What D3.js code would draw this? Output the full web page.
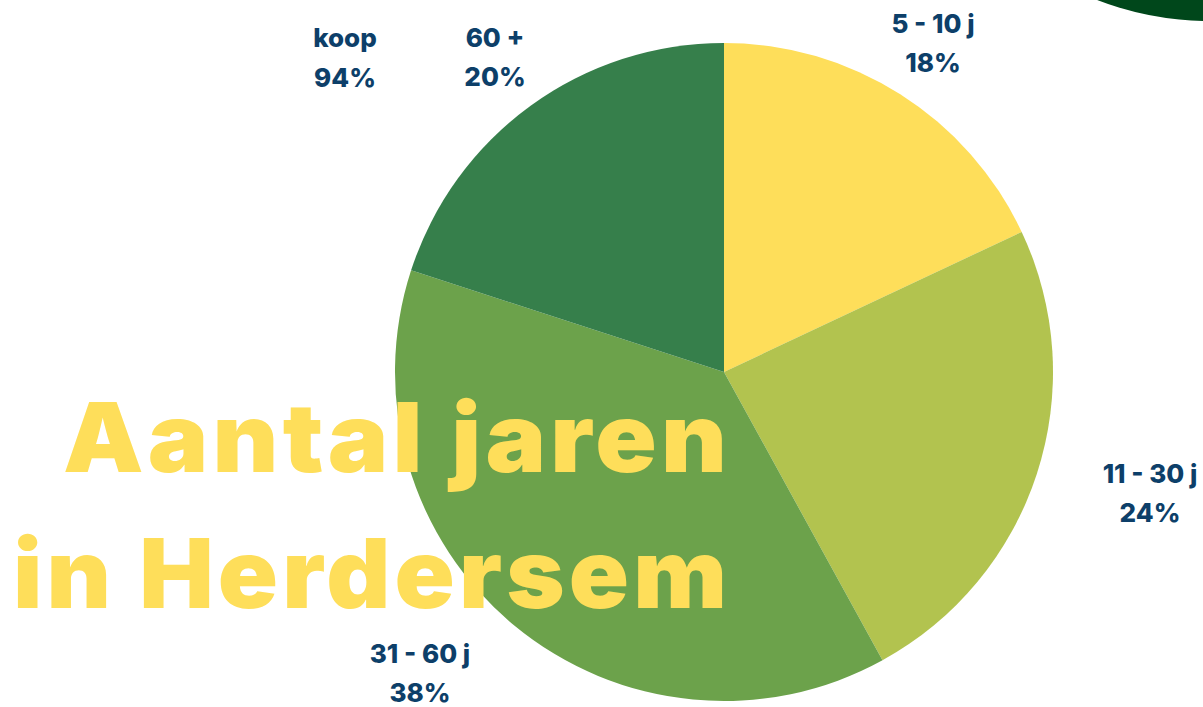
<!DOCTYPE html>
<html><head><meta charset="utf-8">
<script src="https://cdn.jsdelivr.net/npm/d3@7"></script>
<style>
html,body{margin:0;padding:0;background:#fff;}
svg{display:block;}
</style></head>
<body>
<svg id="chart" width="1203" height="707"></svg>
<script>
const categories = ["5 - 10 j", "11 - 30 j", "31 - 60 j", "60 +"];
const values = [18, 24, 38, 20];
const colors = ["#FEDE5A", "#B2C34F", "#6CA24B", "#367F4B"];
const titleLines = ["Aantal jaren", "in Herdersem"];
const extraLabel = ["koop", "94%"];

const W = 1203, H = 707;
const svg = d3.select("#chart");

// decorative dark green circle top-right
svg.append("circle").attr("cx", 1210).attr("cy", -293).attr("r", 314).attr("fill", "#00471B");

const cx = 724, cy = 372, R = 329;
const pie = d3.pie().sort(null).value(d => d.v);
const arcs = pie(categories.map((c, i) => ({c, v: values[i], col: colors[i]})));
const arc = d3.arc().innerRadius(0).outerRadius(R);

const g = svg.append("g").attr("transform", `translate(${cx},${cy})`);
g.selectAll("path").data(arcs).join("path")
  .attr("d", arc).attr("fill", d => d.data.col);

// label positions (text centres)
const labelPos = [[933, 33], [1150, 483], [420, 663], [495, 47]];
const lblColor = "#0D3F69";
const lg = svg.append("g").attr("font-family", "Inter, 'Noto Sans', sans-serif")
  .attr("font-weight", 800).attr("font-size", 26).attr("fill", lblColor).attr("text-anchor", "middle");
arcs.forEach((d, i) => {
  const [x, y] = labelPos[i];
  lg.append("text").attr("x", x).attr("y", y).text(d.data.c);
  lg.append("text").attr("x", x).attr("y", y + 39).text(d.data.v + "%");
});
lg.append("text").attr("x", 345).attr("y", 47).text(extraLabel[0]);
lg.append("text").attr("x", 345).attr("y", 87).text(extraLabel[1]);

// title
const tg = svg.append("g").attr("font-family", "Inter, 'Noto Sans', sans-serif")
  .attr("font-weight", 900).attr("font-size", 96).attr("fill", "#FEDE5A").attr("text-anchor", "end")
  .attr("letter-spacing", 4);
tg.append("text").attr("x", 731).attr("y", 472).attr("textLength", 668).attr("lengthAdjust", "spacingAndGlyphs").text(titleLines[0]);
tg.append("text").attr("x", 731).attr("y", 608).attr("textLength", 718).attr("lengthAdjust", "spacingAndGlyphs").text(titleLines[1]);
</script>
</body></html>
